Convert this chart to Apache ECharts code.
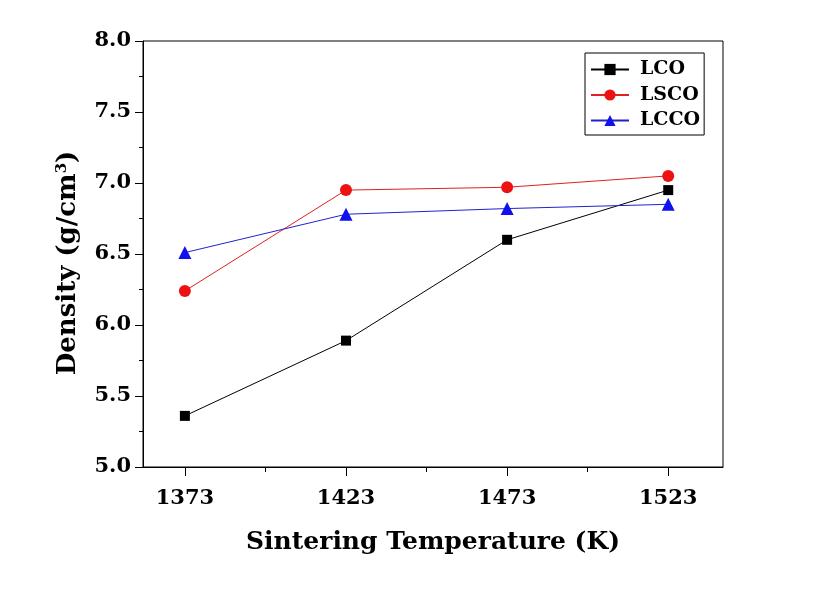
<!DOCTYPE html>
<html>
<head>
<meta charset="utf-8">
<script src="https://cdn.jsdelivr.net/npm/echarts@6/dist/echarts.min.js"></script>
<style>html,body{margin:0;padding:0;background:#fff;}#c{width:817px;height:602px;}</style>
</head>
<body>
<div id="c"></div>
<script>
const temperatures = [1373, 1423, 1473, 1523];
const minorTickTemps = [1398, 1448, 1498];
const lcoDensity  = [5.36, 5.89, 6.60, 6.95];
const lscoDensity = [6.24, 6.95, 6.97, 7.05];
const lccoDensity = [6.51, 6.78, 6.82, 6.85];
const seriesNames = ['LCO', 'LSCO', 'LCCO'];

const FONT = 'DejaVu Serif';
const pair = (vals) => temperatures.map((t, i) => [t, vals[i]]);

const chart = echarts.init(document.getElementById('c'), null, {renderer: 'canvas'});
chart.setOption({
  animation: false,
  backgroundColor: '#fff',
  grid: {left: 143, right: 94, top: 41, bottom: 135, show: true, borderColor: '#000', borderWidth: 1, backgroundColor: 'transparent'},
  legend: {
    orient: 'vertical', left: 585, top: 53,
    data: seriesNames,
    itemWidth: 38, itemHeight: 14, itemGap: 6.5,
    padding: [7, 4, 5, 5],
    borderColor: '#000', borderWidth: 1,
    textStyle: {fontFamily: FONT, fontWeight: 'bold', fontSize: 19, color: '#000', padding: [0, 0, 0, 6]}
  },
  xAxis: [{
    type: 'value', min: 1360, max: 1540,
    name: 'Sintering Temperature (K)', nameLocation: 'middle', nameGap: 63,
    nameTextStyle: {fontFamily: FONT, fontWeight: 'bold', fontSize: 25, color: '#000'},
    axisLine: {lineStyle: {color: '#000', width: 1}},
    axisTick: {show: true, inside: false, length: 9, lineStyle: {color: '#000'}, customValues: temperatures},
    axisLabel: {customValues: temperatures, margin: 21, fontFamily: FONT, fontWeight: 'bold', fontSize: 21, color: '#000', formatter: v => String(v)},
    splitLine: {show: false}
  }, {
    type: 'value', min: 1360, max: 1540, position: 'bottom',
    axisLine: {show: false},
    axisTick: {show: true, inside: false, length: 5, lineStyle: {color: '#000'}, customValues: minorTickTemps},
    axisLabel: {show: false},
    splitLine: {show: false}
  }],
  yAxis: {
    type: 'value', min: 5, max: 8, interval: 0.5,
    name: '{a|Density (g/cm}{s|3}{a|)}', nameLocation: 'middle', nameGap: 61,
    nameTextStyle: {
      padding: [0, 18, 0, 0],
      rich: {
        a: {fontFamily: FONT, fontWeight: 'bold', fontSize: 26, color: '#000'},
        s: {fontFamily: FONT, fontWeight: 'bold', fontSize: 15, color: '#000', verticalAlign: 'top', padding: [0, 0, 12, 0]}
      }
    },
    axisLine: {show: true, lineStyle: {color: '#000', width: 1}},
    axisTick: {show: true, inside: false, length: 8, lineStyle: {color: '#000'}},
    minorTick: {show: true, splitNumber: 2, length: 4, lineStyle: {color: '#000'}},
    axisLabel: {margin: 12, fontFamily: FONT, fontWeight: 'bold', fontSize: 21, color: '#000', formatter: v => v.toFixed(1)},
    splitLine: {show: false}
  },
  series: [
    {name: 'LCO', type: 'line', data: pair(lcoDensity), symbol: 'rect', symbolSize: 10,
     itemStyle: {color: '#000'}, lineStyle: {color: '#000', width: 1}},
    {name: 'LSCO', type: 'line', data: pair(lscoDensity), symbol: 'circle', symbolSize: 12,
     itemStyle: {color: '#ee1111'}, lineStyle: {color: '#dd2222', width: 1}},
    {name: 'LCCO', type: 'line', data: pair(lccoDensity), symbol: 'triangle', symbolSize: 13,
     itemStyle: {color: '#1111ee'}, lineStyle: {color: '#2222cc', width: 1}}
  ]
});
</script>
</body>
</html>
